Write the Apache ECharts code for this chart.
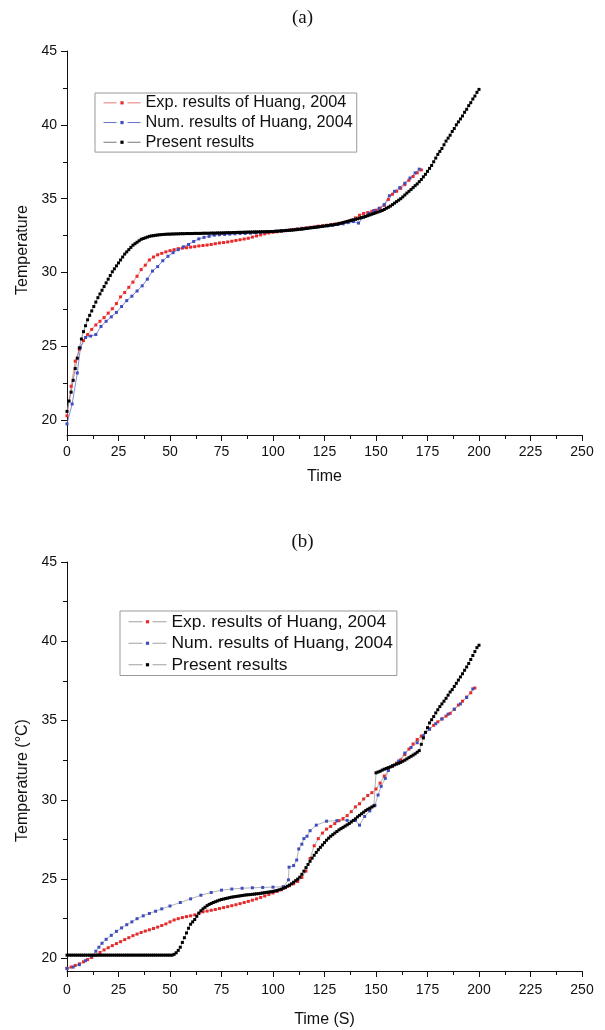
<!DOCTYPE html>
<html>
<head>
<meta charset="utf-8">
<title>Temperature vs time</title>
<script src="https://cdn.jsdelivr.net/npm/echarts@6/dist/echarts.min.js"></script>
<style>
  html, body { margin: 0; padding: 0; background: #fff; }
  #chart { width: 605px; height: 1030px; }
</style>
</head>
<body>
<div id="chart"></div>
<script>
// legend names
const seriesNames = ['Exp. results of Huang, 2004', 'Num. results of Huang, 2004', 'Present results']

// axis ticks
const tempTicks = [20, 25, 30, 35, 40, 45]
const tempMinorTicks = [22.5, 27.5, 32.5, 37.5, 42.5]

// ---- (a) ----
const expTimeA = [0, 2, 4, 6, 8, 10, 12, 14, 16, 18, 20, 22, 24, 26, 28, 30, 32, 34, 36, 38,
  40, 42, 44, 46, 48, 50, 52, 54, 56, 58, 60, 62, 64, 66, 68, 70, 72, 74, 76, 78,
  80, 82, 84, 86, 88, 90, 92, 94, 96, 98, 100, 102, 104, 106, 108, 110, 112, 114, 116, 118,
  120, 122, 124, 126, 128, 130, 132, 134, 136, 138, 140, 142, 144, 146, 148, 150, 152, 154, 156, 158,
  160, 162, 164, 166, 168, 170, 172]
const expTempA = [20.3, 22.3, 24.0, 24.8, 25.4, 25.8, 26.15, 26.45, 26.7, 26.95,
  27.25, 27.55, 27.9, 28.35, 28.65, 29.0, 29.35, 29.75, 30.2, 30.5,
  30.85, 31.05, 31.2, 31.3, 31.4, 31.48, 31.55, 31.62, 31.65, 31.68,
  31.72, 31.75, 31.8, 31.83, 31.86, 31.9, 31.95, 32.0, 32.03, 32.07,
  32.12, 32.17, 32.22, 32.27, 32.32, 32.4, 32.48, 32.55, 32.62, 32.68,
  32.72, 32.76, 32.8, 32.84, 32.88, 32.92, 32.96, 33.0, 33.03, 33.06,
  33.1, 33.14, 33.17, 33.2, 33.24, 33.28, 33.33, 33.38, 33.45, 33.55,
  33.7, 33.88, 34.0, 34.06, 34.14, 34.22, 34.35, 34.55, 34.95, 35.3,
  35.5, 35.7, 35.95, 36.25, 36.5, 36.75, 36.95]

const numTimeA = [0, 2.5, 5, 6.5, 9, 11.5, 14, 16.5, 19, 21.5, 24, 26.5, 29, 31.5, 34, 36.5, 39, 41.5, 44, 46.5,
  49, 51.5, 54, 56.5, 59, 61.5, 64, 66.5, 69, 71.5, 74, 76.5, 79, 81.5, 84, 86.5, 89, 91.5, 94, 96.5,
  99, 101.5, 104, 106.5, 109, 111.5, 114, 116.5, 119, 121.5, 124, 126.5, 129, 131.5, 134, 136.5, 139, 141.5, 144, 146.5,
  149, 151.5, 154, 156.5, 159, 161.5, 164, 166.5, 169, 171]
const numTempA = [19.75, 21.1, 23.2, 24.9, 25.6, 25.7, 25.8, 26.35, 26.7, 27.0,
  27.3, 27.7, 28.1, 28.4, 28.75, 29.1, 29.55, 30.1, 30.4, 30.8,
  31.1, 31.35, 31.55, 31.74, 31.9, 32.1, 32.28, 32.38, 32.45, 32.53,
  32.56, 32.58, 32.6, 32.62, 32.64, 32.65, 32.67, 32.7, 32.72, 32.75,
  32.78, 32.8, 32.83, 32.86, 32.9, 32.93, 32.97, 33.0, 33.05, 33.1,
  33.12, 33.16, 33.2, 33.25, 33.3, 33.38, 33.45, 33.35, 33.75, 34.0,
  34.2, 34.35, 34.6, 35.2, 35.5, 35.75, 36.05, 36.4, 36.75, 37.0]

// present results, one sample per second from t = 0 s
const presentA = [20.6, 21.3, 21.9, 22.7, 23.5, 24.2, 24.9, 25.5, 26.0, 26.4,
  26.8, 27.1, 27.4, 27.7, 28.0, 28.3, 28.55, 28.8, 29.05, 29.3,
  29.55, 29.8, 30.05, 30.25, 30.45, 30.65, 30.85, 31.05, 31.25, 31.4,
  31.55, 31.7, 31.85, 31.95, 32.05, 32.15, 32.25, 32.3, 32.35, 32.4,
  32.45, 32.48, 32.5, 32.52, 32.54, 32.56, 32.57, 32.58, 32.59, 32.6,
  32.6, 32.61, 32.61, 32.62, 32.62, 32.63, 32.63, 32.63, 32.64, 32.64,
  32.64, 32.64, 32.65, 32.65, 32.65, 32.65, 32.66, 32.66, 32.66, 32.66,
  32.67, 32.67, 32.67, 32.68, 32.68, 32.68, 32.69, 32.69, 32.7, 32.7,
  32.7, 32.71, 32.71, 32.72, 32.72, 32.72, 32.73, 32.73, 32.74, 32.74,
  32.74, 32.75, 32.75, 32.75, 32.76, 32.76, 32.76, 32.77, 32.77, 32.78,
  32.78, 32.79, 32.8, 32.81, 32.82, 32.83, 32.84, 32.85, 32.86, 32.87,
  32.88, 32.9, 32.91, 32.93, 32.94, 32.96, 32.98, 33.0, 33.02, 33.04,
  33.05, 33.07, 33.09, 33.11, 33.13, 33.15, 33.17, 33.19, 33.21, 33.23,
  33.25, 33.28, 33.31, 33.34, 33.38, 33.42, 33.46, 33.5, 33.53, 33.57,
  33.6, 33.64, 33.68, 33.72, 33.76, 33.8, 33.85, 33.9, 33.95, 34.0,
  34.05, 34.1, 34.15, 34.2, 34.27, 34.35, 34.42, 34.5, 34.6, 34.7,
  34.8, 34.9, 35.0, 35.12, 35.25, 35.38, 35.5, 35.62, 35.75, 35.88,
  36.0, 36.15, 36.3, 36.48, 36.65, 36.85, 37.05, 37.25, 37.5, 37.75,
  38.0, 38.2, 38.4, 38.65, 38.9, 39.1, 39.3, 39.55, 39.75, 40.0,
  40.2, 40.4, 40.6, 40.85, 41.05, 41.3, 41.5, 41.75, 41.95, 42.2, 42.4]

// ---- (b) ----
const expTimeB = [0, 2, 4, 6, 8, 10, 12, 14, 16, 18, 20, 22, 24, 26, 28, 30, 32, 34, 36, 38,
  40, 42, 44, 46, 48, 50, 52, 54, 56, 58, 60, 62, 64, 66, 68, 70, 72, 74, 76, 78,
  80, 82, 84, 86, 88, 90, 92, 94, 96, 98, 100, 102, 104, 106, 108, 110, 112, 114, 116, 118,
  120, 122, 124, 126, 128, 130, 132, 134, 136, 138, 140, 142, 144, 146, 148, 150, 152, 154, 156, 158,
  160, 162, 164, 166, 168, 170, 172, 174, 176, 178, 180, 182, 184, 186, 188, 190, 192, 194, 196, 198]
const expTempB = [19.37, 19.45, 19.55, 19.65, 19.78, 19.92, 20.05, 20.2, 20.37, 20.53,
  20.67, 20.8, 20.93, 21.05, 21.18, 21.3, 21.43, 21.53, 21.63, 21.72,
  21.8, 21.88, 21.97, 22.07, 22.17, 22.3, 22.42, 22.5, 22.57, 22.63,
  22.68, 22.74, 22.84, 22.93, 22.98, 23.03, 23.08, 23.14, 23.2, 23.26,
  23.32, 23.38, 23.45, 23.52, 23.59, 23.67, 23.75, 23.84, 23.93, 24.03,
  24.12, 24.22, 24.33, 24.45, 24.58, 24.7, 24.85, 25.1, 25.5, 26.3,
  27.1, 27.55, 27.9, 28.15, 28.32, 28.5, 28.68, 28.82, 29.0, 29.25,
  29.55, 29.75, 30.05, 30.27, 30.45, 30.68, 31.05, 31.5, 31.85, 32.1,
  32.32, 32.52, 32.85, 33.2, 33.52, 33.8, 34.02, 34.25, 34.48, 34.7,
  34.92, 35.1, 35.28, 35.45, 35.7, 35.98, 36.22, 36.48, 36.75, 37.05]

const numTimeB = [0, 3, 6, 9, 12, 14, 15.5, 17, 19, 21.5, 24, 26.5, 29, 31.5, 34, 37, 40, 43, 46, 50,
  55, 60, 65, 70, 75, 80, 85, 90, 95, 100, 105, 107.5, 107.8, 110, 111.5, 112.5, 114, 115, 116.5, 118,
  121, 126, 131, 136, 140, 142, 144.5, 147, 149.5, 151, 152.5, 154.5, 156, 158, 161, 164, 167, 170, 173, 176,
  179, 182, 185, 188, 191, 194, 197]
const numTempB = [19.35, 19.45, 19.6, 19.85, 20.15, 20.45, 20.7, 20.95, 21.2, 21.45,
  21.7, 21.92, 22.12, 22.3, 22.5, 22.68, 22.83, 22.97, 23.12, 23.3,
  23.52, 23.75, 23.98, 24.15, 24.3, 24.37, 24.42, 24.45, 24.47, 24.49,
  24.52, 24.95, 25.75, 25.85, 26.2, 26.9, 27.2, 27.55, 27.7, 28.05,
  28.4, 28.65, 28.68, 28.7, 28.7, 28.4, 28.95, 29.3, 29.65, 30.3,
  30.85, 31.35, 31.85, 32.15, 32.45, 32.95, 33.3, 33.6, 34.05, 34.45,
  34.8, 35.1, 35.4, 35.72, 36.05, 36.45, 37.0]

// present results, one sample per second from t = 0 s
const presentB = [20.2, 20.2, 20.2, 20.2, 20.2, 20.2, 20.2, 20.2, 20.2, 20.2,
  20.2, 20.2, 20.2, 20.2, 20.2, 20.2, 20.2, 20.2, 20.2, 20.2,
  20.2, 20.2, 20.2, 20.2, 20.2, 20.2, 20.2, 20.2, 20.2, 20.2,
  20.2, 20.2, 20.2, 20.2, 20.2, 20.2, 20.2, 20.2, 20.2, 20.2,
  20.2, 20.2, 20.2, 20.2, 20.2, 20.2, 20.2, 20.2, 20.2, 20.2,
  20.2, 20.2, 20.25, 20.35, 20.5, 20.7, 21.0, 21.3, 21.6, 21.9,
  22.15, 22.3, 22.45, 22.65, 22.85, 23.0, 23.12, 23.22, 23.32, 23.4,
  23.46, 23.52, 23.57, 23.62, 23.67, 23.71, 23.74, 23.77, 23.8, 23.83,
  23.86, 23.88, 23.9, 23.92, 23.94, 23.96, 23.98, 24.0, 24.01, 24.02,
  24.04, 24.05, 24.07, 24.08, 24.1, 24.12, 24.14, 24.16, 24.18, 24.2,
  24.22, 24.25, 24.28, 24.32, 24.36, 24.42, 24.48, 24.55, 24.62, 24.7,
  24.8, 24.9, 25.0, 25.12, 25.3, 25.5, 25.72, 25.92, 26.12, 26.32,
  26.5, 26.68, 26.85, 27.0, 27.15, 27.3, 27.45, 27.58, 27.7, 27.8,
  27.9, 28.0, 28.1, 28.18, 28.26, 28.34, 28.42, 28.5, 28.6, 28.7,
  28.8, 28.92, 29.02, 29.12, 29.22, 29.32, 29.4, 29.47, 29.55, 29.62,
  31.7, 31.75, 31.8, 31.87, 31.93, 31.98, 32.03, 32.08, 32.14, 32.2,
  32.25, 32.3, 32.36, 32.43, 32.5, 32.58, 32.66, 32.74, 32.82, 32.9,
  33.0, 33.1, 33.5, 33.9, 34.25, 34.55, 34.85, 35.05, 35.25, 35.48,
  35.68, 35.88, 36.05, 36.22, 36.4, 36.6, 36.8, 36.95, 37.15, 37.35,
  37.55, 37.75, 37.95, 38.17, 38.38, 38.6, 38.85, 39.1, 39.35, 39.6, 39.75]

const pairs = (ts, vs) => ts.map((t, i) => [t, vs[i]])
const perSecond = vs => vs.map((v, i) => [i, v])

const sans = '"Liberation Sans", Arial, sans-serif'
const serif = '"Liberation Serif", "Times New Roman", serif'
const ink = '#111'

const markerColors = ['#ea2a2a', '#3f4dbf', '#000']
const lineColorsA = ['#e77b7b', '#6670cc', '#777']
const lineColorB = '#a0a0a0'

const xAxisOf = (gridIndex, name, nameGap, labelMargin) => ({
  type: 'value', gridIndex, min: 0, max: 250, interval: 25,
  name, nameLocation: 'middle', nameGap,
  nameTextStyle: { fontFamily: sans, fontSize: 16, color: ink },
  axisLine: { show: true, onZero: false, lineStyle: { color: ink, width: 1 } },
  axisTick: { show: true, length: 6, lineStyle: { color: ink } },
  minorTick: { show: true, splitNumber: 2, length: 4, lineStyle: { color: ink } },
  axisLabel: { fontFamily: sans, fontSize: 14, color: ink, margin: labelMargin },
  splitLine: { show: false },
  minorSplitLine: { show: false }
})

const yAxisOf = (gridIndex, min, name, nameGap, pad) => ({
  type: 'value', gridIndex, min, max: 45, position: 'left',
  name, nameLocation: 'middle', nameGap,
  nameTextStyle: { fontFamily: sans, fontSize: 16, color: ink, padding: pad },
  axisLine: { show: true, onZero: false, lineStyle: { color: ink, width: 1 } },
  axisTick: { show: true, length: 6, customValues: tempTicks, lineStyle: { color: ink } },
  axisLabel: { fontFamily: sans, fontSize: 14, color: ink, margin: 10, customValues: tempTicks },
  splitLine: { show: false }
})

// minor ticks on the temperature axes
const yMinorOf = (gridIndex, min) => ({
  type: 'value', gridIndex, min, max: 45, position: 'left', offset: 0,
  axisLine: { show: false },
  axisTick: { show: true, length: 4, customValues: tempMinorTicks, lineStyle: { color: ink } },
  axisLabel: { show: false },
  splitLine: { show: false }
})

const seriesOf = (name, data, xi, yi, markerColor, lineColor) => ({
  name, type: 'line', xAxisIndex: xi, yAxisIndex: yi, data,
  symbol: 'rect', symbolSize: 3, showSymbol: true,
  lineStyle: { width: 0.8, color: lineColor },
  itemStyle: { color: markerColor },
  emphasis: { disabled: true },
  animation: false
})

// legend sample: short line, gap, marker, gap, short line
const legendOf = (left, top, fontSize, rowHeight, itemWidth, dash, lineColors) => ({
  orient: 'vertical', left, top,
  padding: [0, 4, 0, 8],
  itemWidth, itemHeight: 4, itemGap: 0,
  borderColor: '#999', borderWidth: 1,
  selectedMode: false,
  lineStyle: { width: 1, type: dash },
  textStyle: { fontFamily: sans, fontSize, color: ink, lineHeight: rowHeight },
  data: seriesNames.map((name, i) => ({
    name,
    lineStyle: { color: lineColors[i], width: 1, type: dash },
    itemStyle: { color: markerColors[i] }
  }))
})

const chart = echarts.init(document.getElementById('chart'))

chart.setOption({
  backgroundColor: '#fff',
  animation: false,
  title: [
    { text: '(a)', left: 'center', top: 9, padding: 0,
      textStyle: { fontFamily: serif, fontSize: 19, fontWeight: 'normal', color: ink } },
    { text: '(b)', left: 'center', top: 533, padding: 0,
      textStyle: { fontFamily: serif, fontSize: 19, fontWeight: 'normal', color: ink } }
  ],
  legend: [
    legendOf(95, 93, 16.3, 19.7, 37, [13, 11, 13], lineColorsA),
    legendOf(120, 611, 17.4, 21.5, 38, [14, 10, 14], [lineColorB, lineColorB, lineColorB])
  ],
  grid: [
    { left: 67, top: 51, width: 515, height: 384 },
    { left: 67, top: 562, width: 515, height: 409 }
  ],
  xAxis: [
    xAxisOf(0, 'Time', 34, 10),
    xAxisOf(1, 'Time (S)', 41, 12)
  ],
  yAxis: [
    yAxisOf(0, 19, 'Temperature', 32, [0, 14, 0, 0]),
    yMinorOf(0, 19),
    yAxisOf(1, 19.2, 'Temperature (°C)', 34, [0, 28, 0, 0]),
    yMinorOf(1, 19.2)
  ],
  series: [
    seriesOf(seriesNames[0], pairs(expTimeA, expTempA), 0, 0, markerColors[0], lineColorsA[0]),
    seriesOf(seriesNames[1], pairs(numTimeA, numTempA), 0, 0, markerColors[1], lineColorsA[1]),
    seriesOf(seriesNames[2], perSecond(presentA), 0, 0, markerColors[2], lineColorsA[2]),
    seriesOf(seriesNames[0], pairs(expTimeB, expTempB), 1, 2, markerColors[0], lineColorB),
    seriesOf(seriesNames[1], pairs(numTimeB, numTempB), 1, 2, markerColors[1], lineColorB),
    seriesOf(seriesNames[2], perSecond(presentB), 1, 2, markerColors[2], lineColorB)
  ]
})

window.addEventListener('resize', () => chart.resize())
</script>
</body>
</html>
